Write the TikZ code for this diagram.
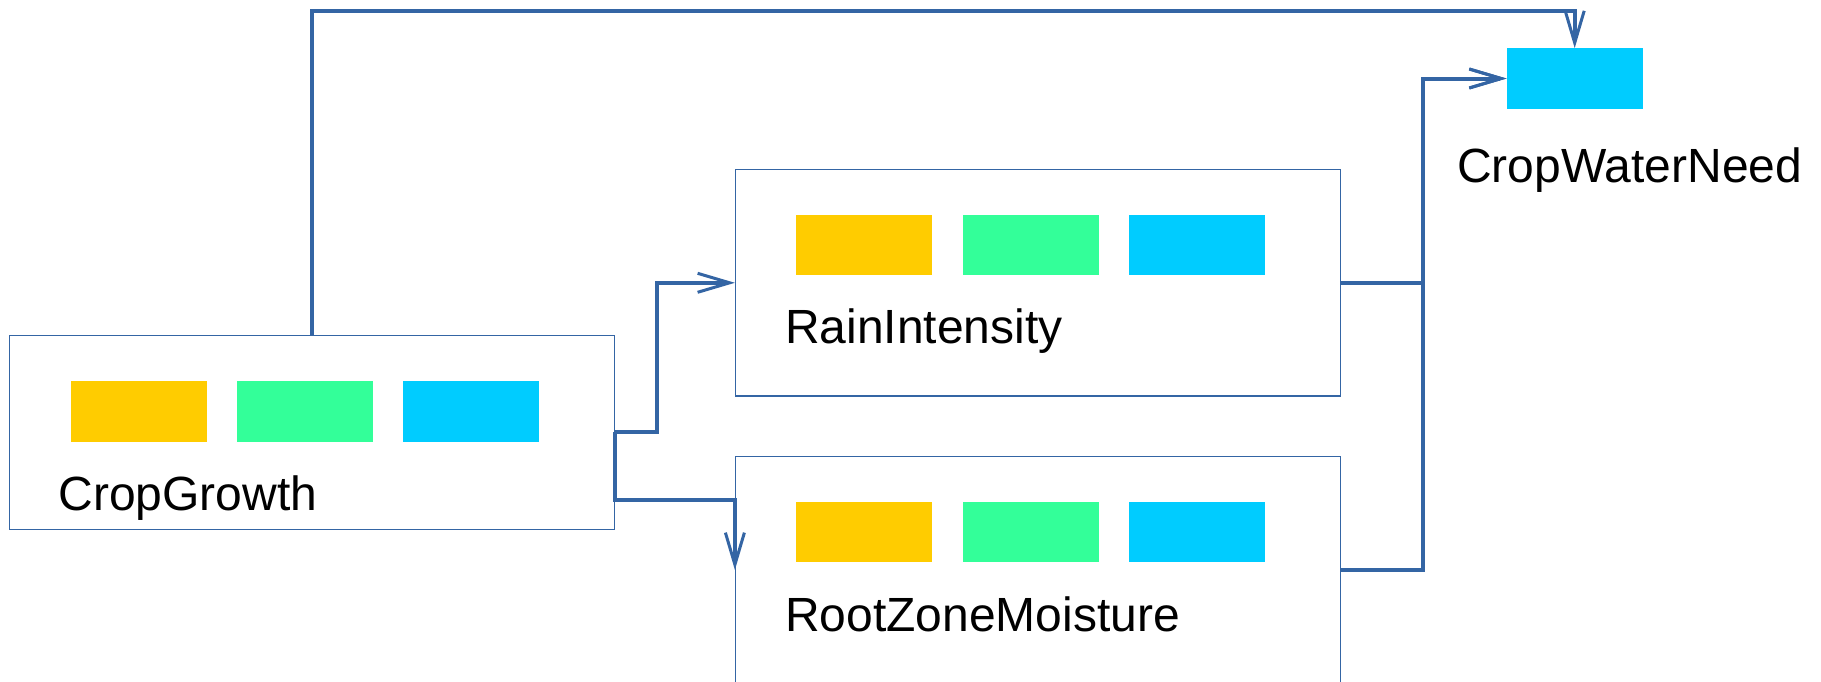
\documentclass[tikz,border=0pt]{standalone}
\usepackage{fontspec}
\setmainfont{Liberation Sans}
\usetikzlibrary{arrows.meta,calc}
\definecolor{lineblue}{HTML}{3465A4}
\definecolor{cyellow}{HTML}{FFCC00}
\definecolor{cgreen}{HTML}{33FF99}
\definecolor{ccyan}{HTML}{00CCFF}
\tikzset{
  objbox/.style={draw=lineblue,line width=1.2pt,fill=white,rectangle,inner sep=0pt,minimum width=605pt,minimum height=#1},
  chip/.style={rectangle,inner sep=0pt,minimum width=136pt,minimum height=60.4pt,fill=#1},
  lbl/.style={anchor=base west,inner sep=0pt,font=\fontsize{48}{57}\selectfont},
  conn/.style={draw=lineblue,line width=4pt,-{Straight Barb[length=32pt,width=19pt,line width=3pt]}}
}
\begin{document}
\begin{tikzpicture}[x=1pt,y=-1pt]
\useasboundingbox (0,0) rectangle (1821,681);
\begin{scope}
\clip (0,0) rectangle (1821,681);
% boxes
\node[objbox=194pt] (cg) at (311.8,432.3) {};
\node[objbox=226.4pt] (rain) at (1038,282.8) {};
\node[objbox=226.4pt] (rz) at (1038,569.9) {};
\end{scope}
% chips
\node[chip=cyellow] (cgy) at (138.5,411.3) {};
\node[chip=cgreen] (cgg) at (304.7,411.3) {};
\node[chip=ccyan] (cgc) at (471,411.3) {};
\node[chip=cyellow] (ry) at (864,244.7) {};
\node[chip=cgreen] (rg) at (1030.7,244.7) {};
\node[chip=ccyan] (rc) at (1196.9,244.7) {};
\node[chip=cyellow] (zy) at (864,531.9) {};
\node[chip=cgreen] (zg) at (1030.7,531.9) {};
\node[chip=ccyan] (zc) at (1196.9,531.9) {};
\node[chip=ccyan] (cwn) at (1574.7,78.5) {};
% labels
\node[lbl] (cgl) at (58.3,510) {CropGrowth};
\node[lbl] (rl) at (785,343) {RainIntensity};
\node[lbl] (zl) at (785,631) {RootZoneMoisture};
\node[lbl] (cwnl) at (1457,182.7) {CropWaterNeed};
% connectors
\draw[conn] (cg.east) -- ($(cg.east)+(42,0)$) |- (rain.west);
\draw[conn] (cg.east) -- (cg.east |- 0,500) -- (rz.west |- 0,500) -- (rz.west);
\draw[conn] (rain.east) -- (1423.3,0 |- rain.east) |- (cwn.west);
\draw[conn] (rz.east) -- (1423.3,0 |- rz.east) |- (cwn.west);
\draw[conn] (cg.north) -- (cg.north |- 0,11) -| (cwn.north);
\end{tikzpicture}
\end{document}
